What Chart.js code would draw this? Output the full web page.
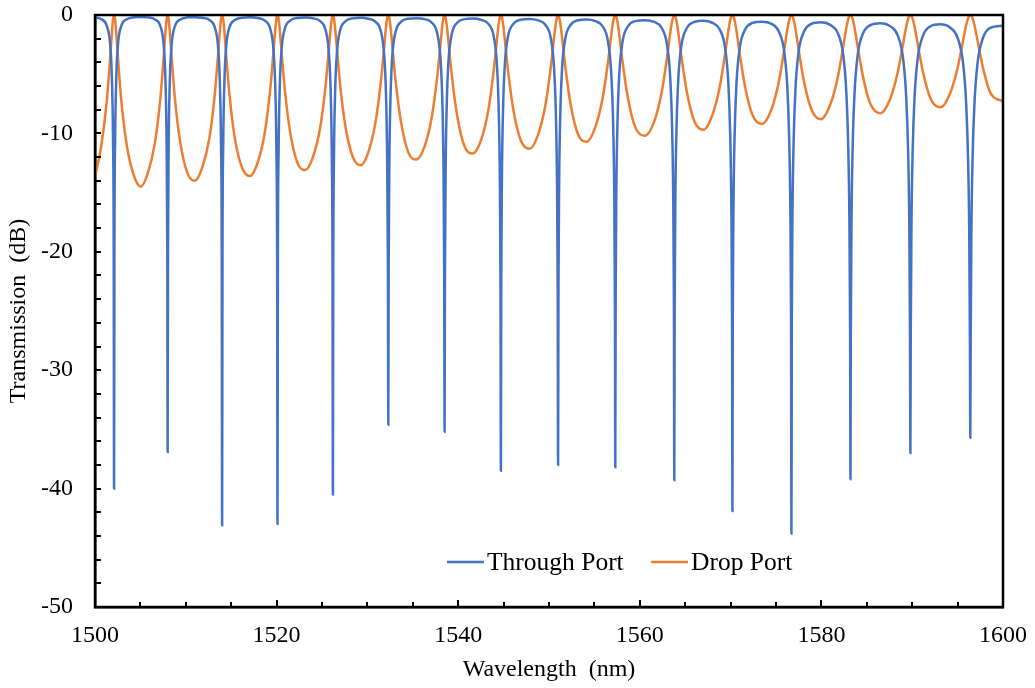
<!DOCTYPE html>
<html>
<head>
<meta charset="utf-8">
<script src="https://cdn.jsdelivr.net/npm/chart.js@4.4.1/dist/chart.umd.min.js"></script>
<style>
  html, body { margin: 0; padding: 0; background: #fff; }
  #ringChart { display: block; }
</style>
</head>
<body>
<canvas id="ringChart" width="1035" height="688"></canvas>
<script>
// wavelength samples (nm), one line per resonance, then the midpoint between resonances
const wavelength = [
  1500.0, 1500.7, 1501.3, 1501.65, 1501.85, 1501.98, 1502.06, 1502.1, 1502.14, 1502.22, 1502.35, 1502.55, 1502.9, 1503.5, 1504.3,
  1505.05,
  1505.8, 1506.6, 1507.2, 1507.55, 1507.75, 1507.88, 1507.96, 1508.0, 1508.04, 1508.12, 1508.25, 1508.45, 1508.8, 1509.4, 1510.2,
  1511.0,
  1511.8, 1512.6, 1513.2, 1513.55, 1513.75, 1513.88, 1513.96, 1514.0, 1514.04, 1514.12, 1514.25, 1514.45, 1514.8, 1515.4, 1516.2,
  1517.05,
  1517.9, 1518.7, 1519.3, 1519.65, 1519.85, 1519.98, 1520.06, 1520.1, 1520.14, 1520.22, 1520.35, 1520.55, 1520.9, 1521.5, 1522.3,
  1523.15,
  1524.0, 1524.8, 1525.4, 1525.75, 1525.95, 1526.08, 1526.16, 1526.2, 1526.24, 1526.32, 1526.45, 1526.65, 1527.0, 1527.6, 1528.4,
  1529.25,
  1530.1, 1530.9, 1531.5, 1531.85, 1532.05, 1532.18, 1532.26, 1532.3, 1532.34, 1532.42, 1532.55, 1532.75, 1533.1, 1533.7, 1534.5,
  1535.4,
  1536.3, 1537.1, 1537.7, 1538.05, 1538.25, 1538.38, 1538.46, 1538.5, 1538.54, 1538.62, 1538.75, 1538.95, 1539.3, 1539.9, 1540.7,
  1541.6,
  1542.5, 1543.3, 1543.9, 1544.25, 1544.45, 1544.58, 1544.66, 1544.7, 1544.74, 1544.82, 1544.95, 1545.15, 1545.5, 1546.1, 1546.9,
  1547.85,
  1548.8, 1549.6, 1550.2, 1550.55, 1550.75, 1550.88, 1550.96, 1551.0, 1551.04, 1551.12, 1551.25, 1551.45, 1551.8, 1552.4, 1553.2,
  1554.15,
  1555.1, 1555.9, 1556.5, 1556.85, 1557.05, 1557.18, 1557.26, 1557.3, 1557.34, 1557.42, 1557.55, 1557.75, 1558.1, 1558.7, 1559.5,
  1560.55,
  1561.6, 1562.4, 1563.0, 1563.35, 1563.55, 1563.68, 1563.76, 1563.8, 1563.84, 1563.92, 1564.05, 1564.25, 1564.6, 1565.2, 1566.0,
  1567.0,
  1568.0, 1568.8, 1569.4, 1569.75, 1569.95, 1570.08, 1570.16, 1570.2, 1570.24, 1570.32, 1570.45, 1570.65, 1571.0, 1571.6, 1572.4,
  1573.45,
  1574.5, 1575.3, 1575.9, 1576.25, 1576.45, 1576.58, 1576.66, 1576.7, 1576.74, 1576.82, 1576.95, 1577.15, 1577.5, 1578.1, 1578.9,
  1579.95,
  1581.0, 1581.8, 1582.4, 1582.75, 1582.95, 1583.08, 1583.16, 1583.2, 1583.24, 1583.32, 1583.45, 1583.65, 1584.0, 1584.6, 1585.4,
  1586.5,
  1587.6, 1588.4, 1589.0, 1589.35, 1589.55, 1589.68, 1589.76, 1589.8, 1589.84, 1589.92, 1590.05, 1590.25, 1590.6, 1591.2, 1592.0,
  1593.1,
  1594.2, 1595.0, 1595.6, 1595.95, 1596.15, 1596.28, 1596.36, 1596.4, 1596.44, 1596.52, 1596.65, 1596.85, 1597.2, 1597.8, 1598.6,
  1600.0
];

// through port (dB)
const throughPort = [
  -0.20, -0.36, -0.91, -2.32, -5.14, -10.3, -19.5, -40.0, -19.5, -10.3, -5.14, -2.32, -0.91, -0.36, -0.19,
  -0.16,
  -0.20, -0.38, -0.95, -2.43, -5.31, -10.5, -19.7, -36.9, -19.7, -10.5, -5.31, -2.43, -0.95, -0.38, -0.20,
  -0.18,
  -0.23, -0.42, -1.06, -2.65, -5.69, -11.0, -20.3, -43.1, -20.3, -11.0, -5.69, -2.65, -1.06, -0.42, -0.23,
  -0.19,
  -0.25, -0.47, -1.17, -2.88, -6.04, -11.5, -20.8, -43.0, -20.8, -11.5, -6.04, -2.88, -1.17, -0.47, -0.25,
  -0.22,
  -0.28, -0.52, -1.28, -3.11, -6.39, -11.9, -21.2, -40.5, -21.2, -11.9, -6.39, -3.11, -1.28, -0.52, -0.28,
  -0.24,
  -0.31, -0.58, -1.43, -3.39, -6.80, -12.4, -21.6, -34.6, -21.6, -12.4, -6.80, -3.39, -1.43, -0.58, -0.31,
  -0.27,
  -0.35, -0.65, -1.58, -3.69, -7.23, -12.9, -22.2, -35.2, -22.2, -12.9, -7.23, -3.69, -1.58, -0.65, -0.35,
  -0.30,
  -0.40, -0.73, -1.76, -4.01, -7.68, -13.4, -22.8, -38.5, -22.8, -13.4, -7.68, -4.01, -1.76, -0.73, -0.40,
  -0.33,
  -0.45, -0.82, -1.96, -4.38, -8.18, -14.0, -23.4, -38.0, -23.4, -14.0, -8.18, -4.38, -1.96, -0.82, -0.45,
  -0.39,
  -0.52, -0.95, -2.24, -4.86, -8.81, -14.7, -24.1, -38.2, -24.1, -14.7, -8.81, -4.86, -2.24, -0.95, -0.52,
  -0.44,
  -0.59, -1.08, -2.50, -5.28, -9.34, -15.3, -24.7, -39.3, -24.7, -15.3, -9.34, -5.28, -2.50, -1.08, -0.59,
  -0.49,
  -0.67, -1.23, -2.79, -5.74, -9.90, -15.9, -25.4, -41.9, -25.4, -15.9, -9.90, -5.74, -2.79, -1.23, -0.67,
  -0.56,
  -0.75, -1.37, -3.05, -6.14, -10.4, -16.4, -25.9, -43.8, -25.9, -16.4, -10.4, -6.14, -3.05, -1.37, -0.75,
  -0.61,
  -0.85, -1.53, -3.36, -6.60, -11.0, -17.0, -26.5, -39.2, -26.5, -17.0, -11.0, -6.60, -3.36, -1.53, -0.85,
  -0.69,
  -0.96, -1.72, -3.69, -7.07, -11.5, -17.6, -27.1, -37.0, -27.1, -17.6, -11.5, -7.07, -3.69, -1.72, -0.96,
  -0.79,
  -1.08, -1.92, -4.05, -7.57, -12.1, -18.2, -27.7, -35.7, -27.7, -18.2, -12.1, -7.57, -4.05, -1.92, -1.08,
  -0.90
];

// drop port (dB)
const dropPort = [
  -13.7, -11.0, -7.25, -3.83, -1.59, -0.42, -0.05, 0, -0.05, -0.42, -1.59, -3.83, -7.25, -11.0, -13.6,
  -14.5,
  -13.4, -10.8, -7.05, -3.68, -1.51, -0.40, -0.05, 0, -0.05, -0.40, -1.51, -3.68, -7.05, -10.8, -13.4,
  -14.0,
  -12.9, -10.4, -6.64, -3.40, -1.37, -0.36, -0.04, 0, -0.04, -0.36, -1.37, -3.40, -6.64, -10.4, -12.9,
  -13.6,
  -12.5, -9.92, -6.27, -3.14, -1.24, -0.32, -0.04, 0, -0.04, -0.32, -1.24, -3.14, -6.27, -9.92, -12.5,
  -13.1,
  -12.0, -9.50, -5.92, -2.91, -1.13, -0.29, -0.03, 0, -0.03, -0.29, -1.13, -2.91, -5.92, -9.50, -12.0,
  -12.7,
  -11.6, -9.03, -5.52, -2.66, -1.02, -0.26, -0.03, 0, -0.03, -0.26, -1.02, -2.66, -5.52, -9.03, -11.6,
  -12.2,
  -11.1, -8.57, -5.15, -2.43, -0.91, -0.23, -0.03, 0, -0.03, -0.23, -0.91, -2.43, -5.15, -8.57, -11.1,
  -11.7,
  -10.6, -8.12, -4.78, -2.20, -0.81, -0.20, -0.02, 0, -0.02, -0.20, -0.81, -2.20, -4.78, -8.12, -10.6,
  -11.3,
  -10.1, -7.63, -4.39, -1.97, -0.72, -0.18, -0.02, 0, -0.02, -0.18, -0.72, -1.97, -4.39, -7.63, -10.1,
  -10.7,
  -9.47, -7.05, -3.95, -1.72, -0.61, -0.15, -0.02, 0, -0.02, -0.15, -0.61, -1.72, -3.95, -7.05, -9.47,
  -10.2,
  -8.96, -6.57, -3.59, -1.53, -0.54, -0.13, -0.01, 0, -0.01, -0.13, -0.54, -1.53, -3.59, -6.57, -8.96,
  -9.7,
  -8.43, -6.08, -3.25, -1.35, -0.47, -0.11, -0.01, 0, -0.01, -0.11, -0.47, -1.35, -3.25, -6.08, -8.43,
  -9.2,
  -7.98, -5.69, -2.97, -1.21, -0.42, -0.10, -0.01, 0, -0.01, -0.10, -0.42, -1.21, -2.97, -5.69, -7.98,
  -8.8,
  -7.52, -5.28, -2.69, -1.07, -0.36, -0.09, -0.01, 0, -0.01, -0.09, -0.36, -1.07, -2.69, -5.28, -7.52,
  -8.3,
  -7.03, -4.86, -2.42, -0.95, -0.32, -0.08, -0.01, 0, -0.01, -0.08, -0.32, -0.95, -2.42, -4.86, -7.03,
  -7.8,
  -6.56, -4.47, -2.17, -0.84, -0.28, -0.07, -0.01, 0, -0.01, -0.07, -0.28, -0.84, -2.17, -4.47, -6.56,
  -7.3
];

const seriesNames = ['Through Port', 'Drop Port'];
const seriesColors = ['#4472C4', '#ED7D31'];
const xTicks = [1500, 1520, 1540, 1560, 1580, 1600];
const yTicks = [-50, -40, -30, -20, -10, 0];

const FONT = "'Liberation Serif', 'Times New Roman', serif";

function toPoints(values) {
    return wavelength.map((x, i) => ({ x: x, y: values[i] }));
}

// inner tick marks, frame and legend, the way the original plot shows them
const framePlugin = {
    id: 'frame',
    afterDatasetsDraw(chart) {
        const ctx = chart.ctx;
        const area = chart.chartArea;
        const xs = chart.scales.x;
        const ys = chart.scales.y;
        ctx.save();
        ctx.strokeStyle = '#000';
        ctx.lineWidth = 2;
        for (let v = 1500; v <= 1600; v += 5) {
            const px = Math.round(xs.getPixelForValue(v));
            const len = v % 20 === 0 ? 7 : 5;
            ctx.beginPath();
            ctx.moveTo(px, area.bottom);
            ctx.lineTo(px, area.bottom - len);
            ctx.stroke();
        }
        for (let v = -50; v <= 0; v += 2) {
            const py = Math.round(ys.getPixelForValue(v));
            ctx.beginPath();
            ctx.moveTo(area.left, py);
            ctx.lineTo(area.left + 6, py);
            ctx.stroke();
        }
        ctx.lineWidth = 2.5;
        ctx.strokeRect(area.left, area.top, area.right - area.left, area.bottom - area.top);

        // legend inside the plot, bottom centre
        const legendY = 563;
        const items = [
            { x: 447, text: seriesNames[0], color: seriesColors[0] },
            { x: 651, text: seriesNames[1], color: seriesColors[1] }
        ];
        ctx.font = '25.5px ' + FONT;
        ctx.textBaseline = 'middle';
        ctx.textAlign = 'left';
        items.forEach(it => {
            ctx.beginPath();
            ctx.strokeStyle = it.color;
            ctx.lineWidth = 2.5;
            ctx.moveTo(it.x, legendY - 1);
            ctx.lineTo(it.x + 37, legendY - 1);
            ctx.stroke();
            ctx.fillStyle = '#000';
            ctx.fillText(it.text, it.x + 40, legendY);
        });
        ctx.restore();
    }
};

new Chart(document.getElementById('ringChart'), {
    type: 'line',
    data: {
        datasets: [
            {
                label: seriesNames[0],
                data: toPoints(throughPort),
                borderColor: seriesColors[0],
                borderWidth: 2.5,
                pointRadius: 0,
                cubicInterpolationMode: 'monotone'
            },
            {
                label: seriesNames[1],
                data: toPoints(dropPort),
                borderColor: seriesColors[1],
                borderWidth: 2.5,
                pointRadius: 0,
                cubicInterpolationMode: 'monotone'
            }
        ]
    },
    options: {
        responsive: false,
        devicePixelRatio: 1,
        animation: false,
        layout: { padding: { top: 15, right: 32, left: 0, bottom: 0 } },
        plugins: {
            legend: { display: false },
            tooltip: { enabled: false }
        },
        scales: {
            x: {
                type: 'linear',
                min: 1500,
                max: 1600,
                afterFit: s => { s.height = 81; s.paddingLeft = 0; s.paddingRight = 0; },
                afterBuildTicks: s => { s.ticks = xTicks.map(v => ({ value: v })); },
                grid: { display: false, drawTicks: false },
                border: { display: true, color: '#000', width: 2.5 },
                ticks: {
                    padding: 14,
                    color: '#000',
                    font: { family: FONT, size: 24 },
                    callback: v => String(v)
                },
                title: {
                    display: true,
                    text: 'Wavelength  (nm)',
                    color: '#000',
                    font: { family: FONT, size: 24 }
                }
            },
            y: {
                min: -50,
                max: 0,
                afterFit: s => { s.width = 95; s.paddingTop = 0; s.paddingBottom = 0; },
                afterBuildTicks: s => { s.ticks = yTicks.map(v => ({ value: v })); },
                grid: { display: false, drawTicks: false },
                border: { display: true, color: '#000', width: 2.5 },
                ticks: {
                    padding: 22,
                    color: '#000',
                    font: { family: FONT, size: 24 },
                    callback: v => String(v)
                },
                title: {
                    display: true,
                    text: 'Transmission  (dB)',
                    color: '#000',
                    font: { family: FONT, size: 24 }
                }
            }
        }
    },
    plugins: [framePlugin]
});
</script>
</body>
</html>
